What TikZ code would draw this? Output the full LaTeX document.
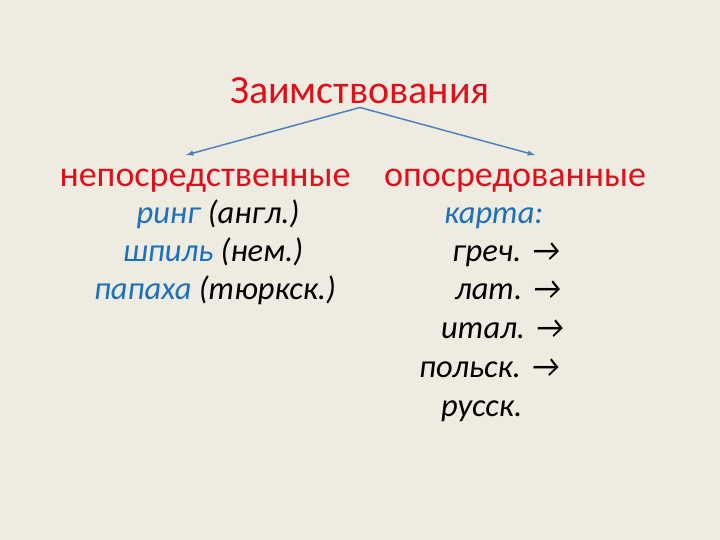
\documentclass[tikz,border=0pt]{standalone}
\usepackage{fontspec}
\setmainfont{Carlito}
\usetikzlibrary{positioning}

\definecolor{slidebg}{RGB}{238,236,225}
\definecolor{titlered}{RGB}{222,16,28}
\definecolor{wordblue}{RGB}{30,112,186}
\definecolor{linkblue}{RGB}{79,129,189}

\begin{document}
\begin{tikzpicture}[x=1pt,y=-1pt,
    head/.style={titlered,inner sep=0pt,anchor=base,font=\fontsize{36}{43}\selectfont},
    entry/.style={inner sep=0pt,anchor=base,font=\fontsize{32.5}{39}\selectfont\itshape},
    link/.style={linkblue,line width=1.5pt,-latex}]
  \path[fill=slidebg] (0,0) rectangle (720,540);

  % title and the two kinds
  \node[head,font=\fontsize{40}{48}\selectfont] (title) at (360,104) {Заимствования};
  \node[head] (direct) at (205,187) {непосредственные};
  \node[head] (indirect) at (515,187) {опосредованные};

  \coordinate[below=3pt of title] (fork);
  \coordinate (directend) at (186,155);
  \coordinate (indirectend) at (535,155);
  \draw[link] (fork) -- (directend);
  \draw[link] (fork) -- (indirectend);

  % left column
  \node[entry] (ring) at (218,224) {{\color{wordblue}ринг} (англ.)};
  \node[entry] (shpil) at (213,261) {{\color{wordblue}шпиль} (нем.)};
  \node[entry] (papakha) at (215,299) {{\color{wordblue}папаха} (тюркск.)};

  % right column
  \node[entry,anchor=base west] (karta) at (444,224) {\color{wordblue}карта:};
  \node[entry,anchor=base west] (grech) at (452,261) {греч. →};
  \node[entry,anchor=base west] (lat) at (455,299) {лат. →};
  \node[entry,anchor=base west] (ital) at (441,338) {итал. →};
  \node[entry,anchor=base west] (polsk) at (419,377) {польск. →};
  \node[entry,anchor=base west] (russk) at (441,416) {русск.};
\end{tikzpicture}
\end{document}
